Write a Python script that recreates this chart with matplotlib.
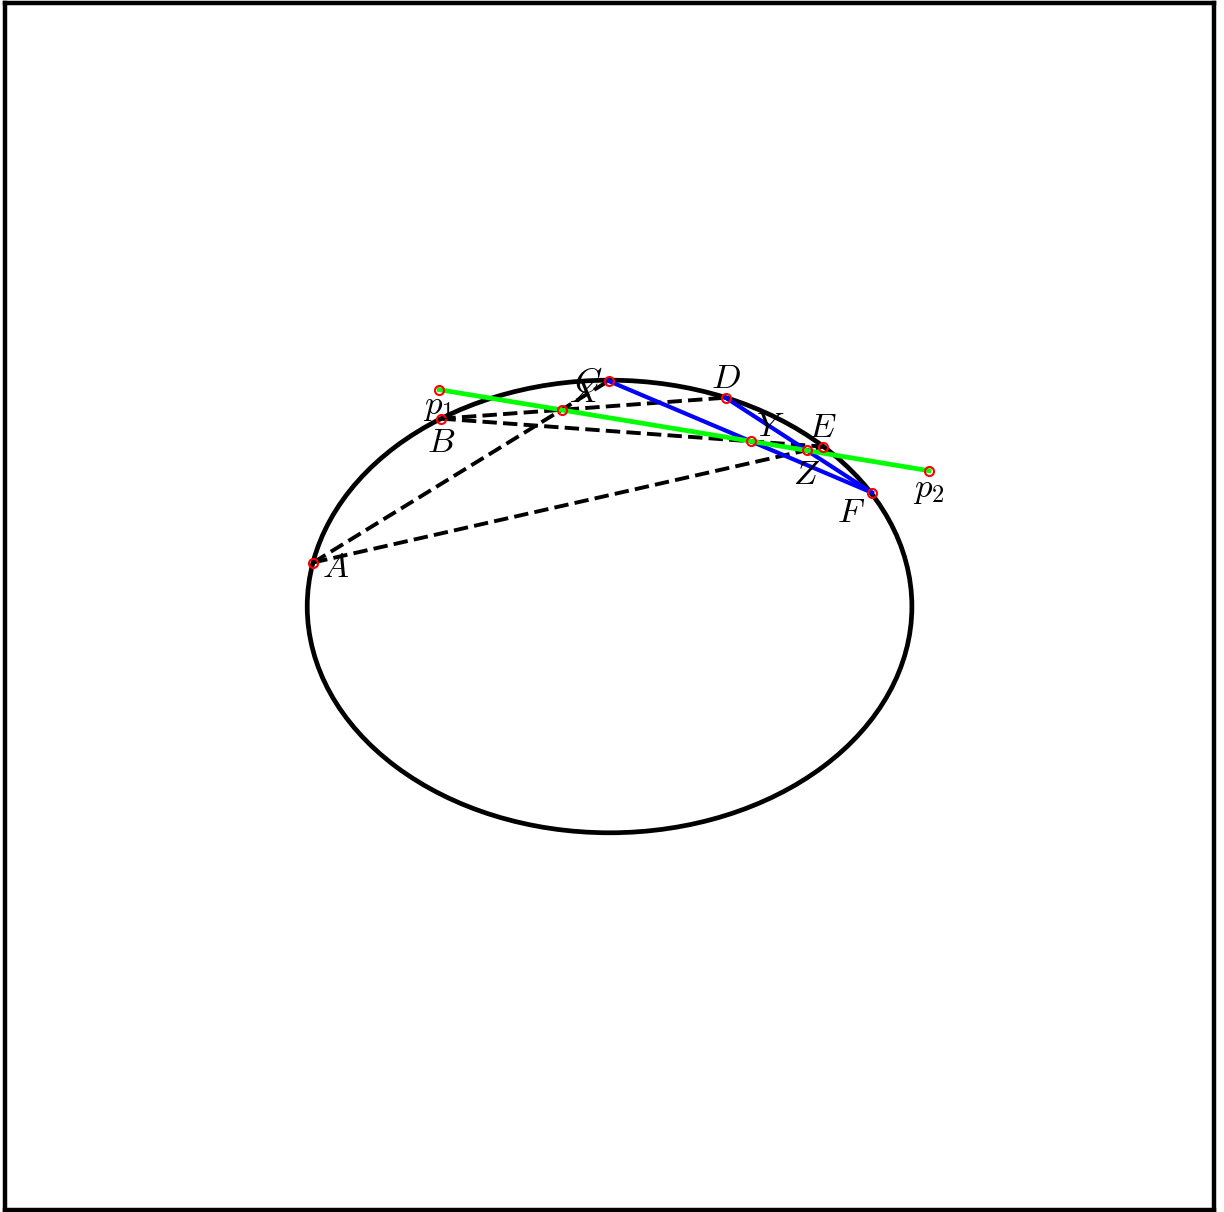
import numpy as np
import matplotlib
matplotlib.use('Agg')
import matplotlib.pyplot as plt
from matplotlib.patches import Ellipse

plt.rcParams['mathtext.fontset'] = 'cm'

# ellipse (semi axes) and the six points on it
ellipse_a = 4.0
ellipse_b = 3.0
point_names = ['A', 'B', 'C', 'D', 'E', 'F']
point_x = [-3.92, -2.225, -0.013, 1.536, 2.82, 3.47]
point_y = [0.583, 2.49, 2.99, 2.768, 2.12, 1.51]

# end points of the Pascal line
p1 = (-2.252, 2.874)
p2 = (4.225, 1.80)

# label offsets in points
offsets = {'A': (16, -3), 'B': (0, -17), 'C': (-15, -1), 'D': (0, 14),
           'E': (0, 14), 'F': (-15, -14), 'X': (17, 13), 'Y': (14, 11),
           'Z': (0, -17), 'p1': (-1, -12), 'p2': (0, -13)}

P = {n: np.array([x, y]) for n, x, y in zip(point_names, point_x, point_y)}


def intersect(p, q, r, s):
    # intersection of line pq with line rs
    d1 = q - p
    d2 = s - r
    t = np.cross(r - p, d2) / np.cross(d1, d2)
    return p + t * d1


X = intersect(P['A'], P['C'], P['B'], P['D'])
Y = intersect(P['C'], P['F'], P['B'], P['E'])
Z = intersect(P['F'], P['D'], P['E'], P['A'])

fig = plt.figure(figsize=(12.24, 12.12), dpi=100)
ax = fig.add_axes([0.004, 0.0017, 0.988, 0.9958])
ax.set_xlim(-8, 8)
ax.set_ylim(-8, 8)
ax.set_xticks([])
ax.set_yticks([])
for sp in ax.spines.values():
    sp.set_linewidth(3.2)

ax.add_patch(Ellipse((0, 0), 2 * ellipse_a, 2 * ellipse_b, fill=False,
                     edgecolor='black', linewidth=3.4, zorder=1))

# dashed sides of the hexagon
for a, b in [('A', 'C'), ('B', 'D'), ('B', 'E'), ('A', 'E')]:
    ax.plot([P[a][0], P[b][0]], [P[a][1], P[b][1]], '--', color='black',
            linewidth=2.8, zorder=2)

# blue sides
for a, b in [('C', 'F'), ('D', 'F')]:
    ax.plot([P[a][0], P[b][0]], [P[a][1], P[b][1]], '-', color='blue',
            linewidth=3.0, zorder=3)

# Pascal line
ax.plot([p1[0], p2[0]], [p1[1], p2[1]], '-', color='#00ff00', linewidth=3.4,
        zorder=4)

markers = dict(P)
markers['X'] = X
markers['Y'] = Y
markers['Z'] = Z
markers['p1'] = np.array(p1)
markers['p2'] = np.array(p2)

labels = {'p1': r'$p_1$', 'p2': r'$p_2$'}
for name, pt in markers.items():
    ax.plot(pt[0], pt[1], 'o', markersize=6.5, markerfacecolor='none',
            markeredgecolor='red', markeredgewidth=1.5, zorder=5)
    ax.annotate(labels.get(name, '$' + name + '$'), xy=pt,
                xytext=offsets[name], textcoords='offset points',
                ha='center', va='center', fontsize=25, zorder=6)

plt.savefig('out.png', dpi=100)
plt.close()
